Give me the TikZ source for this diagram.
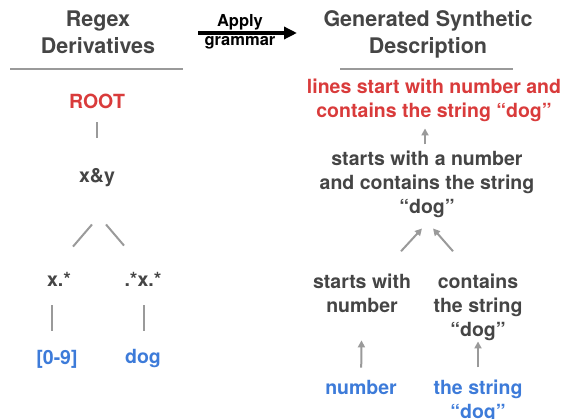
\documentclass[tikz,border=0pt]{standalone}
\usepackage{fontspec}
\setmainfont{TeX Gyre Heros}
\usetikzlibrary{arrows.meta}

\definecolor{txtgray}{HTML}{454545}
\definecolor{rootred}{HTML}{D93B3B}
\definecolor{leafblue}{HTML}{3D7BD9}
\definecolor{linegray}{HTML}{9A9A9A}

\begin{document}
\begin{tikzpicture}[x=1pt, y=-1pt,
  txt/.style={inner sep=0pt, anchor=base, align=center, text=txtgray,
    font=\bfseries\fontsize{19.5}{24}\selectfont},
  head/.style={txt, font=\bfseries\fontsize{21.5}{27}\selectfont},
  small/.style={txt, text=black, font=\bfseries\fontsize{16.5}{19}\selectfont},
  root/.style={txt, text=rootred},
  leaf/.style={txt, text=leafblue},
  link/.style={draw=linegray, line width=2pt},
  up/.style={link, -{Triangle[width=7pt,length=7pt]}}]
  \useasboundingbox (0,0) rectangle (564,419);

  % headers (base = last line)
  \node (regexhead) [head] at (98,54) {Regex\\Derivatives};
  \node (deschead) [head] at (428,54) {Generated Synthetic\\Description};
  \node (apply) [small] at (240,27) {Apply};
  \node (grammar) [small] at (240,46) {grammar};
  \coordinate (applyfrom) at (198,33);
  \coordinate (applyto) at (297,33);
  \draw[line width=4pt, -{Triangle[width=12pt,length=13pt]}] (applyfrom) -- (applyto);
  \draw[draw=linegray, line width=2.5pt] (10,69) -- (183,69);
  \draw[draw=linegray, line width=2.5pt] (340,69) -- (513,69);

  % regex derivatives
  \node (root) [root] at (97,109) {ROOT};
  \node (xy) [txt] at (97,183) {x\&y};
  \node (xstar) [txt] at (59,287) {x.*};
  \node (dstar) [txt] at (143,287) {.*x.*};
  \node (digits) [leaf] at (57,364) {[0-9]};
  \node (dog) [leaf] at (143,363) {dog};

  \draw[link, shorten <=13pt, shorten >=31pt] (root) -- (xy);
  \draw[link] ([xshift=-5pt,yshift=-37pt]xy.south) -- ([xshift=14pt,yshift=26pt]xstar.north);
  \draw[link] ([xshift=9pt,yshift=-37pt]xy.south) -- ([xshift=-19pt,yshift=27pt]dstar.north);
  \draw[link, shorten <=18pt, shorten >=19pt] ([xshift=-7pt]xstar.south) -- ([xshift=-5pt]digits.north);
  \draw[link, shorten <=18pt, shorten >=18pt] ([xshift=1pt]dstar.south) -- ([xshift=1pt]dog.north);

  % synthetic description
  \node (goal) [root] at (434,118) {lines start with number and\\contains the string “dog”};
  \node (merged) [txt] at (427,214) {starts with a number\\and contains the string\\“dog”};
  \node (startnum) [txt] at (362,312) {starts with\\number};
  \node (hasdog) [txt] at (478,336) {contains\\the string\\“dog”};
  \node (number) [leaf] at (361,394) {number};
  \node (thestring) [leaf] at (478,418) {the string\\“dog”};

  \draw[up, shorten <=7pt, shorten >=6pt] ([xshift=-2pt]merged.north) -- ([xshift=-9pt]goal.south);
  \draw[up] ([xshift=39pt,yshift=22pt]startnum.north) -- ([xshift=-5pt,yshift=-10pt]merged.south);
  \draw[up] ([xshift=-25pt,yshift=22pt]hasdog.north) -- ([xshift=6pt,yshift=-10pt]merged.south);
  \draw[up, shorten <=12pt, shorten >=28pt] (number) -- (startnum);
  \draw[up, shorten <=12pt, shorten >=1pt] (thestring) -- (hasdog);
\end{tikzpicture}
\end{document}
